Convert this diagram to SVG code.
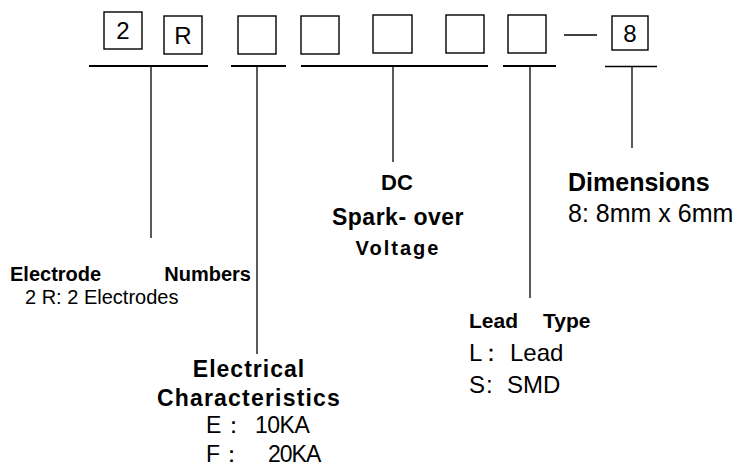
<svg xmlns="http://www.w3.org/2000/svg" width="743" height="466" viewBox="0 0 743 466">
<style>
  .box{fill:#fff;stroke:#000;stroke-width:1.4}
  .bt{font-family:"Liberation Sans",Arial,sans-serif;font-size:24px;text-anchor:middle;fill:#000}
  .h{font-family:"Liberation Sans",Arial,sans-serif;font-weight:bold;fill:#000}
  .t{font-family:"Liberation Sans",Arial,sans-serif;fill:#000}
  .bar{stroke:#000;stroke-width:2;fill:none}
  .lead{stroke:#000;stroke-width:1.3;fill:none}
</style>
<rect width="743" height="466" fill="#fff"/>
<g id="node-2"><rect class="box" x="104" y="12" width="38" height="37"/><text class="bt" x="123" y="39">2</text></g>
<g id="node-R"><rect class="box" x="164" y="16" width="38" height="38"/><text class="bt" x="183" y="44">R</text></g>
<g id="node-b3"><rect class="box" x="238" y="16" width="38" height="38"/></g>
<g id="node-b4"><rect class="box" x="301" y="16" width="38" height="38"/></g>
<g id="node-b5"><rect class="box" x="373" y="15" width="39" height="38"/></g>
<g id="node-b6"><rect class="box" x="446" y="15" width="38" height="38"/></g>
<g id="node-b7"><rect class="box" x="508" y="15" width="38" height="38"/></g>
<g id="node-8"><rect class="box" x="612" y="16" width="36" height="34"/><text class="bt" x="630" y="42">8</text></g>
<g id="connectors">
  <line class="lead" x1="564" y1="35" x2="597" y2="35"/>
  <line class="bar" x1="89" y1="66" x2="208" y2="66"/>
  <line class="bar" x1="231" y1="66" x2="286" y2="66"/>
  <line class="bar" x1="301" y1="66" x2="488" y2="66"/>
  <line class="bar" x1="503" y1="66" x2="556" y2="66"/>
  <line class="lead" x1="605" y1="66.5" x2="657" y2="66.5"/>
  <line class="lead" x1="151" y1="66" x2="151" y2="238"/>
  <line class="lead" x1="257" y1="66" x2="257" y2="354"/>
  <line class="lead" x1="393" y1="66" x2="393" y2="162"/>
  <line class="lead" x1="530" y1="66" x2="530" y2="298"/>
  <line class="lead" x1="632" y1="66" x2="632" y2="148"/>
</g>
<g id="label-electrode">
  <text class="h" font-size="20" x="10" y="281">Electrode</text>
  <text class="h" font-size="20" x="251" y="281" text-anchor="end">Numbers</text>
  <text class="t" font-size="20" x="25" y="304">2 R: 2 Electrodes</text>
</g>
<g id="label-electrical">
  <text class="h" font-size="23" x="249" y="377" text-anchor="middle" letter-spacing="1">Electrical</text>
  <text class="h" font-size="23" x="249" y="406" text-anchor="middle" letter-spacing="1.2">Characteristics</text>
  <text class="t" font-size="23" y="433"><tspan x="206">E</tspan><tspan x="222">：</tspan><tspan x="255" letter-spacing="-0.5">10KA</tspan></text>
  <text class="t" font-size="23" y="462"><tspan x="206">F</tspan><tspan x="220">：</tspan><tspan x="268" letter-spacing="-1">20KA</tspan></text>
</g>
<g id="label-dc">
  <text class="h" font-size="22" x="397" y="190" text-anchor="middle">DC</text>
  <text class="h" font-size="23" x="398" y="225" text-anchor="middle" letter-spacing="0.5">Spark- over</text>
  <text class="h" font-size="20" x="398" y="255" text-anchor="middle" letter-spacing="2">Voltage</text>
</g>
<g id="label-dimensions">
  <text class="h" font-size="25" x="568" y="191">Dimensions</text>
  <text class="t" font-size="25" x="568" y="222">8: 8mm x 6mm</text>
</g>
<g id="label-lead">
  <text class="h" font-size="21" y="328"><tspan x="469">Lead</tspan><tspan x="543">Type</tspan></text>
  <text class="t" font-size="24" y="361"><tspan x="469">L</tspan><tspan x="479">：</tspan><tspan x="510">Lead</tspan></text>
  <text class="t" font-size="24" y="393"><tspan x="469">S</tspan><tspan x="486">:</tspan><tspan x="507">SMD</tspan></text>
</g>
</svg>
